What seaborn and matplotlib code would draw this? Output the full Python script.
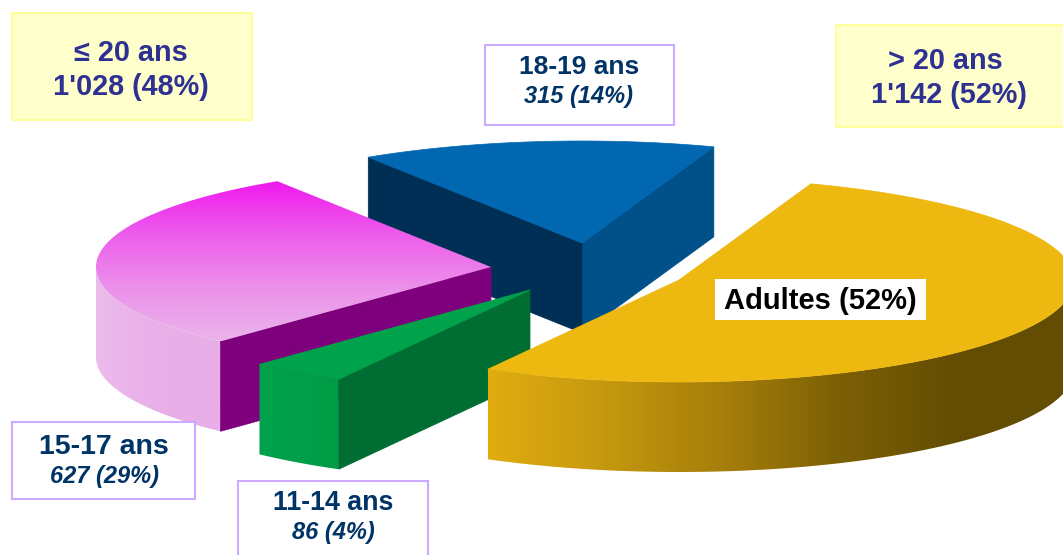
import numpy as np
import matplotlib
matplotlib.use("Agg")
import matplotlib.pyplot as plt
from matplotlib.patches import Polygon, Rectangle
import seaborn as sns

# slices, going clockwise from the start angle
age_groups = ["Adultes", "11-14 ans", "15-17 ans", "18-19 ans"]
counts = [1142, 86, 627, 315]
count_labels = ["1'142", "86", "627", "315"]
percent_labels = ["52%", "4%", "29%", "14%"]
summary_titles = ["\u2264 20 ans", "> 20 ans"]
summary_values = ["1'028 (48%)", " 1'142 (52%)"]

sns.set_theme(style="white")
plt.rcParams["font.family"] = ["Liberation Sans", "DejaVu Sans"]

W, H = 1063, 555
fig = plt.figure(figsize=(W / 100, H / 100), dpi=100)
ax = fig.add_axes([0, 0, 1, 1])

# pie geometry, in pixels
RX, RY = 395, 102
DEPTH = 90
START = 70.5
apex = {"Adultes": (679, 280), "11-14 ans": (530, 290), "15-17 ans": (491, 267), "18-19 ans": (582, 243)}

# angles from the values
sweep = np.array(counts) / sum(counts) * 360
ends = START - np.cumsum(sweep)
starts = ends + sweep
angles = {g: (s, e) for g, s, e in zip(age_groups, starts, ends)}


def arc(name, t1, t2, dy=0):
    cx, cy = apex[name]
    t = np.radians(np.linspace(t1, t2, 200))
    return np.column_stack([cx + RX * np.cos(t), cy - RY * np.sin(t) + dy])


def top_face(name):
    s, e = angles[name]
    return np.vstack([[apex[name]], arc(name, s, e)])


def outer_side(name, t1, t2):
    return np.vstack([arc(name, t1, t2), arc(name, t2, t1, DEPTH)])


def radial_side(name, t):
    p = arc(name, t, t)[0]
    a = apex[name]
    return [a, p, (p[0], p[1] + DEPTH), (a[0], a[1] + DEPTH)]


def solid(pts, color, z):
    ax.add_patch(Polygon(pts, closed=True, fc=color, ec=color, lw=0.5, zorder=z))


def gradient(pts, cmap, z, horizontal=True):
    pts = np.asarray(pts)
    x0, x1, y0, y1 = pts[:, 0].min(), pts[:, 0].max(), pts[:, 1].min(), pts[:, 1].max()
    ramp = np.linspace(0, 1, 256)
    ramp = ramp[None, :] if horizontal else ramp[:, None]
    im = ax.imshow(ramp, cmap=cmap, extent=[x0, x1, y1, y0], aspect="auto", zorder=z)
    im.set_clip_path(Polygon(pts, closed=True, transform=ax.transData))


# blue slice, at the back
s, e = angles["18-19 ans"]
solid(radial_side("18-19 ans", e), "#00508a", 1)
solid(radial_side("18-19 ans", s), "#002f56", 1)
solid(top_face("18-19 ans"), "#0067b0", 1.1)

# magenta slice
s, e = angles["15-17 ans"]
side_cmap = sns.blend_palette(["#ecbcec", "#eab2ea", "#e8aee8", "#e8aee8"], as_cmap=True)
gradient(outer_side("15-17 ans", -180, s), side_cmap, 2)
solid(radial_side("15-17 ans", s), "#7f007c", 2.1)
top_cmap = sns.blend_palette(["#ee18ee", "#ee5cec", "#ec90ea", "#eab4ea"], as_cmap=True)
gradient(top_face("15-17 ans"), top_cmap, 2.2, horizontal=False)

# green slice
s, e = angles["11-14 ans"]
gradient(outer_side("11-14 ans", s, e), sns.blend_palette(["#00a24b", "#009c46"], as_cmap=True), 3)
solid(radial_side("11-14 ans", s), "#006d32", 3.1)
solid(top_face("11-14 ans"), "#00a34b", 3.2)

# yellow slice, in front
s, e = angles["Adultes"]
side_cmap = sns.blend_palette(["#e2ac10", "#c4980e", "#a67e0a", "#7c6006", "#634d02", "#634d02"], as_cmap=True)
gradient(outer_side("Adultes", 0, e), side_cmap, 4)
solid(top_face("Adultes"), "#edb80f", 4.1)


def box(x0, y0, x1, y1, fc, ec):
    ax.add_patch(Rectangle((x0, y0), x1 - x0, y1 - y0, fc=fc, ec=ec, lw=1.5, zorder=5))


def label(x, y, txt, color, size=20.8, style="normal"):
    ax.text(x, y, txt, color=color, fontsize=size, fontweight="bold", fontstyle=style,
            ha="center", va="center", zorder=6)


YELLOW, YELLOW_EDGE = "#ffffcc", "#ffff99"
NAVY, BLUE_TXT, LILAC = "#2e3192", "#003366", "#ccaaff"

box(12, 13, 252, 120, YELLOW, YELLOW_EDGE)
label(131, 53, summary_titles[0], NAVY)
label(131, 87, summary_values[0], NAVY)
box(836, 25, 1070, 127, YELLOW, YELLOW_EDGE)
label(945, 61, summary_titles[1], NAVY)
label(945, 95, summary_values[1], NAVY)

box(485, 45, 674, 125, "white", LILAC)
label(579, 67, age_groups[3], BLUE_TXT, 19)
label(579, 96, f"{count_labels[3]} ({percent_labels[3]})", BLUE_TXT, 17, "italic")
box(12, 422, 195, 499, "white", LILAC)
label(104, 447, age_groups[2], BLUE_TXT, 20.5)
label(104, 477, f"{count_labels[2]} ({percent_labels[2]})", BLUE_TXT, 17, "italic")
box(238, 481, 428, 565, "white", LILAC)
label(333, 503, age_groups[1], BLUE_TXT, 19.3)
label(333, 532, f"{count_labels[1]} ({percent_labels[1]})", BLUE_TXT, 17, "italic")

ax.add_patch(Rectangle((715, 279), 211, 41, fc="white", ec="white", lw=0, zorder=5))
label(820, 301, f"{age_groups[0]} ({percent_labels[0]})", "black", 21)

ax.set_xlim(0, W)
ax.set_ylim(H, 0)
ax.axis("off")
sns.despine(ax=ax, left=True, bottom=True)
fig.savefig("out.png", dpi=100, facecolor="white")
